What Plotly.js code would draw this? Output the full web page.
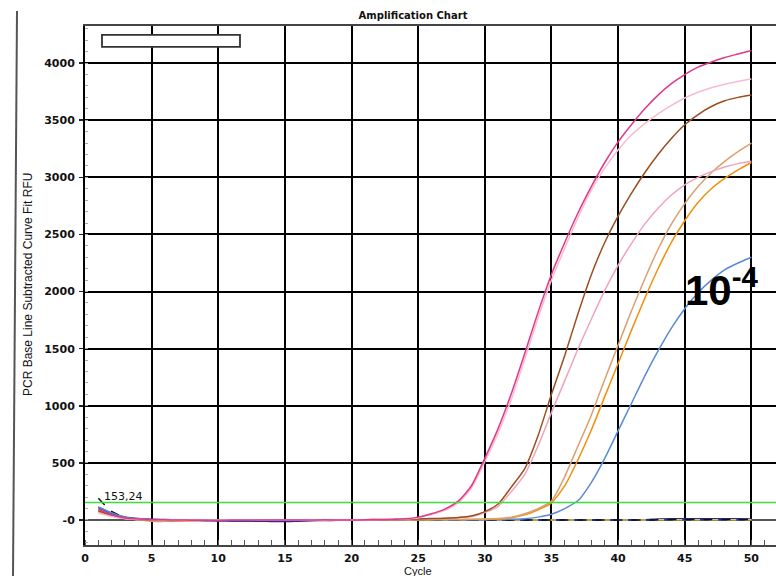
<!DOCTYPE html>
<html>
<head>
<meta charset="utf-8">
<script src="https://cdn.plot.ly/plotly-3.0.1.min.js"></script>
<style>
html,body{margin:0;padding:0;background:#fff;}
#chart{width:776px;height:576px;}
</style>
</head>
<body>
<div id="chart"></div>
<script>
const cycles = [1,2,3,4,5,6,7,8,9,10,11,12,13,14,15,16,17,18,19,20,21,22,23,24,25,26,27,28,29,30,31,32,33,34,35,36,37,38,39,40,41,42,43,44,45,46,47,48,49,50];

const magenta = [95,45,18,8,3,1,0,-2,-3,-4,-3,-2,-1,0,-1,0,0,1,0,0,1,2,4,10,25,
  55,95,165,300,540,800,1110,1460,1820,2150,2430,2690,2920,3130,3310,3460,3600,3720,3820,3900,3965,4010,4050,4080,4110];
const lightPink = [60,30,12,5,2,0,-1,-2,-2,-3,-3,-2,-1,0,0,0,1,0,0,1,2,3,5,8,20,
  50,85,150,280,510,760,1060,1410,1770,2100,2380,2650,2890,3080,3240,3370,3470,3555,3630,3695,3745,3785,3815,3840,3860];
const brown = [80,40,15,5,0,-3,-4,-3,-2,-2,-1,0,0,0,0,0,1,1,2,2,3,4,5,6,8,
  12,16,22,35,73,140,290,450,740,1100,1440,1810,2150,2430,2660,2860,3040,3200,3340,3460,3550,3620,3670,3700,3720];
const pinkLower = [70,35,12,4,0,-2,-3,-3,-2,-1,0,0,0,0,1,1,1,2,2,3,3,4,5,6,8,
  10,14,20,30,65,120,250,400,650,940,1220,1500,1760,2010,2230,2420,2590,2730,2845,2935,3000,3050,3090,3120,3140];
const tan = [75,38,12,2,-8,-10,-6,-4,-3,-2,-2,-1,0,0,0,0,0,1,1,1,2,2,2,3,3,
  4,4,5,6,8,12,25,55,100,165,380,650,920,1230,1530,1830,2110,2370,2590,2770,2920,3040,3140,3225,3300];
const orange = [85,42,15,3,-10,-12,-7,-5,-3,-2,-1,0,0,0,0,0,1,1,1,1,2,2,2,3,3,
  3,4,4,5,6,8,20,45,90,150,300,530,790,1080,1370,1660,1940,2200,2430,2620,2780,2900,2990,3065,3130];
const blue = [115,62,25,10,4,1,0,-2,-4,-5,-5,-4,-3,-2,-1,0,0,0,0,0,0,1,1,1,1,
  1,2,2,2,3,4,6,10,25,50,100,170,330,540,780,1020,1260,1480,1680,1850,1990,2100,2190,2250,2300];
const navy = [110,58,24,10,4,2,0,-2,-4,-6,-8,-8,-8,-10,-12,-8,-4,-2,-1,0,0,0,0,0,0,
  0,0,0,0,0,0,0,0,0,0,0,0,0,0,0,0,0,6,8,8,8,8,8,8,6];
const ntcBlack = [190,75,22,8,3,1,0,-1,-2,-2,-2,-1,0,0,0,0,0,0,0,0,0,0,0,0,0,
  0,0,0,0,0,0,0,0,0,0,0,0,0,0,0,0,0,2,4,4,4,4,4,4,3];
const ntcYellow = [80,40,14,4,0,-2,-2,-2,-1,-1,0,0,0,0,0,0,0,0,0,0,0,0,0,0,0,
  0,0,0,0,0,0,0,0,0,0,0,0,0,0,0,0,0,2,3,3,3,3,3,3,2];

const threshold = 153.24;
const yTickVals = [0,500,1000,1500,2000,2500,3000,3500,4000];
const yTickText = ['-0','500','1000','1500','2000','2500','3000','3500','4000'];
const xTickVals = [0,5,10,15,20,25,30,35,40,45,50];

function tr(y, color, width, dash){
  return {x: cycles, y: y, type:'scatter', mode:'lines',
    line:{color:color, width:width, dash:dash||'solid', shape:'spline', smoothing:0.6},
    hoverinfo:'skip', showlegend:false};
}

const data = [
  tr(navy,'#1f2f9a',2),
  tr(ntcYellow,'#e8c840',1.5,'dash'),
  tr(ntcBlack,'#111111',1.5,'dash'),
  tr(blue,'#5a8ad6',1.5),
  tr(orange,'#f0900c',1.5),
  tr(tan,'#dba070',1.5),
  tr(pinkLower,'#f0a4ba',1.5),
  tr(brown,'#9a4e20',1.5),
  tr(lightPink,'#f7bccd',1.5),
  tr(magenta,'#e0388c',1.5)
];

const layout = {
  width:776, height:576, autosize:false,
  margin:{l:85, r:0, t:26, b:31, pad:0},
  paper_bgcolor:'#ffffff', plot_bgcolor:'#ffffff',
  showlegend:false,
  title:{text:'Amplification Chart', x:413/776, xref:'container', xanchor:'center',
    y:1-15/576, yref:'container', yanchor:'middle',
    font:{family:'DejaVu Sans', size:10, color:'#111', weight:'bold'}},
  xaxis:{range:[0,51.85], fixedrange:true,
    tickvals:xTickVals, ticktext:xTickVals.map(String),
    ticks:'', ticklabelstandoff:2,
    tickfont:{family:'DejaVu Sans', size:11, color:'#111', weight:'bold'},
    showgrid:true, gridcolor:'#000', gridwidth:2,
    zeroline:false,
    showline:true, linecolor:'#444', linewidth:2, mirror:true,
    minor:{ticks:'inside', dtick:1, tick0:0, ticklen:5, tickcolor:'#555', tickwidth:1, showgrid:false}
  },
  yaxis:{range:[-219,4325], fixedrange:true,
    tickvals:yTickVals, ticktext:yTickText,
    ticks:'outside', ticklen:4, tickcolor:'#222', tickwidth:1.5, ticklabelstandoff:2,
    tickfont:{family:'DejaVu Sans', size:11, color:'#111', weight:'bold'},
    showgrid:true, gridcolor:'#000', gridwidth:2,
    zeroline:true, zerolinecolor:'#555', zerolinewidth:2,
    showline:true, linecolor:'#000', linewidth:2, mirror:false,
    minor:{ticks:'inside', dtick:100, tick0:0, ticklen:3, tickcolor:'#aaa', tickwidth:1, showgrid:false}
  },
  shapes:[
    {type:'line', xref:'paper', yref:'y', x0:0, x1:1, y0:threshold, y1:threshold,
      line:{color:'#3ce03c', width:1.5}, layer:'above'},
    {type:'rect', xref:'x', yref:'y', x0:1.275, x1:11.63, y0:4142, y1:4247,
      fillcolor:'#ffffff', line:{color:'#333', width:1.8}, layer:'above'},
    {type:'line', xref:'paper', yref:'paper', x0:(17-85)/691, x1:(13-85)/691,
      y0:(545-11)/519, y1:(545-576)/519, line:{color:'#555', width:2}}
  ],
  annotations:[
    {text:'PCR Base Line Subtracted Curve Fit RFU', xref:'paper', yref:'paper',
      x:(28-85)/691, y:(545-285)/519, xanchor:'center', yanchor:'middle', textangle:-90,
      showarrow:false, font:{family:'Liberation Sans, Arial', size:12, color:'#111'}},
    {text:'Cycle', xref:'paper', yref:'paper', x:(418-85)/691, y:(545-571)/519,
      xanchor:'center', yanchor:'middle', showarrow:false,
      font:{family:'Liberation Sans, Arial', size:11, color:'#111'}},
    {text:'153,24', xref:'x', yref:'y', x:1.3, y:210, xanchor:'left', yanchor:'middle',
      showarrow:false, font:{family:'DejaVu Sans', size:11, color:'#111'}},
    {text:'10<sup>-4</sup>', xref:'x', yref:'y', x:44.85, y:2040, xanchor:'left', yanchor:'middle',
      showarrow:false, font:{family:'Liberation Sans, Arial', size:42, color:'#000', weight:'bold'}}
  ]
};

Plotly.newPlot('chart', data, layout, {staticPlot:true, displayModeBar:false});
</script>
</body>
</html>
